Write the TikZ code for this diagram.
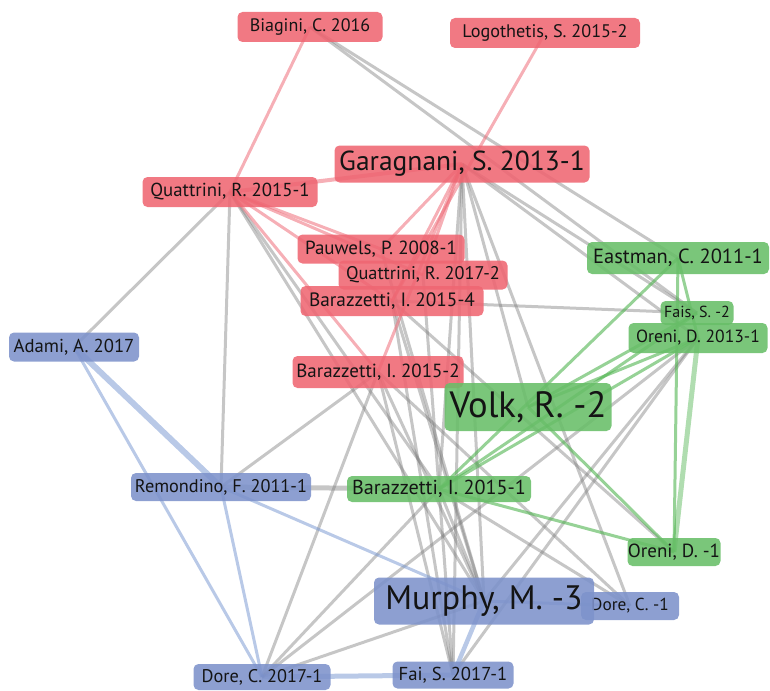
\documentclass[tikz,border=0pt]{standalone}
\usepackage{fontspec}
\setmainfont{PT Sans}
\usetikzlibrary{backgrounds}
\definecolor{nred}{RGB}{239,102,114}
\definecolor{ngreen}{RGB}{104,190,104}
\definecolor{nblue}{RGB}{125,146,203}
\definecolor{ered}{RGB}{238,110,122}
\definecolor{egreen}{RGB}{80,180,80}
\definecolor{eblue}{RGB}{115,148,208}
\definecolor{egray}{RGB}{120,120,120}
\newcommand\nfs[1]{\fontsize{#1pt}{#1pt}\selectfont}
\begin{document}
\begin{tikzpicture}[x=1pt,y=-1pt,
  box/.style={rounded corners=5pt, inner sep=0pt, fill opacity=0.88, text opacity=1, text=black!92},
  rb/.style={box, fill=nred},
  gb/.style={box, fill=ngreen},
  bb/.style={box, fill=nblue},
  ge/.style={draw=egray, draw opacity=0.42, line width=3pt},
  re/.style={draw=ered, draw opacity=0.55, line width=3pt},
  gre/.style={draw=egreen, draw opacity=0.6, line width=3pt},
  be/.style={draw=eblue, draw opacity=0.5, line width=3pt}]
\useasboundingbox (0,0) rectangle (770,690);

% nodes
\node[rb, minimum width=145pt, minimum height=30pt, font=\nfs{18}] (biag) at (310,27) {Biagini, C. 2016};
\node[rb, minimum width=190pt, minimum height=30pt, font=\nfs{18.2}] (logo) at (545,33) {Logothetis, S. 2015-2};
\node[rb, minimum width=255pt, minimum height=37pt, font=\nfs{27.5}] (gara) at (462,164) {Garagnani, S. 2013-1};
\node[rb, minimum width=175pt, minimum height=30pt, font=\nfs{18.8}] (q151) at (230,192) {Quattrini, R. 2015-1};
\node[rb, minimum width=167pt, minimum height=29pt, font=\nfs{19}] (pauw) at (381,249) {Pauwels, P. 2008-1};
\node[rb, minimum width=169pt, minimum height=29pt, font=\nfs{18.3}] (q172) at (423,275) {Quattrini, R. 2017-2};
\node[rb, minimum width=183pt, minimum height=30pt, font=\nfs{19.3}] (b154) at (392,301) {Barazzetti, I. 2015-4};
\node[rb, minimum width=171pt, minimum height=32pt, font=\nfs{19}] (b152) at (378,372) {Barazzetti, I. 2015-2};
\node[gb, minimum width=182pt, minimum height=32pt, font=\nfs{20.5}] (east) at (678,258) {Eastman, C. 2011-1};
\node[gb, minimum width=73pt, minimum height=24pt, font=\nfs{16}] (fais) at (697,313) {Fais, S. -2};
\node[gb, minimum width=139pt, minimum height=30pt, font=\nfs{17.6}] (or13) at (698,338) {Oreni, D. 2013-1};
\node[gb, minimum width=167pt, minimum height=48pt, font=\nfs{36.6}] (volk) at (528,407) {Volk, R. -2};
\node[gb, minimum width=184pt, minimum height=26pt, font=\nfs{20.2}] (b151) at (439,489) {Barazzetti, I. 2015-1};
\node[gb, minimum width=93pt, minimum height=28pt, font=\nfs{19}] (oren1) at (674,552) {Oreni, D. -1};
\node[bb, minimum width=130pt, minimum height=29pt, font=\nfs{18.7}] (adam) at (74,347) {Adami, A. 2017};
\node[bb, minimum width=180pt, minimum height=28pt, font=\nfs{18.3}] (remo) at (221,487) {Remondino, F. 2011-1};
\node[bb, minimum width=98pt, minimum height=28pt, font=\nfs{17.3}] (dorc1) at (630,606) {Dore, C. -1};
\node[bb, minimum width=220pt, minimum height=47pt, font=\nfs{33.9}] (murp) at (484,601) {Murphy, M. -3};
\node[bb, minimum width=121pt, minimum height=27pt, font=\nfs{18.7}] (fai17) at (453,675) {Fai, S. 2017-1};
\node[bb, minimum width=137pt, minimum height=26pt, font=\nfs{18.3}] (dore17) at (262,677) {Dore, C. 2017-1};

\begin{pgfonlayer}{background}
% gray links
\foreach \a/\b in {adam/q151, q151/remo, q151/b151, q151/murp, biag/east, biag/fais,
  gara/murp, gara/volk, gara/dorc1, gara/fais, gara/fai17, gara/b151, gara/or13,
  b154/fais, b154/murp, b154/fai17, b154/oren1, pauw/murp, q172/fai17,
  b152/remo, b152/dore17, b152/murp, b152/fai17, b152/dorc1,
  b151/dore17, b151/murp, b151/dorc1, dore17/or13, dore17/murp, or13/fai17, or13/murp}
  \draw[ge] (\a.center) -- (\b.center);
\draw[ge, line width=5pt] (remo.center) -- (b151.center);
% red links
\foreach \a/\b in {biag/q151, logo/b154, q151/pauw, q151/q172, q151/b154, q151/b152,
  gara/pauw, gara/q172, gara/b154, gara/b152}
  \draw[re] (\a.center) -- (\b.center);
\draw[re, line width=4pt] (q151.center) -- (gara.center);
% green links
\foreach \a/\b in {east/or13, east/b151, fais/b151, or13/b151, fais/volk, or13/volk,
  volk/oren1, b151/oren1, east/oren1}
  \draw[gre] (\a.center) -- (\b.center);
\draw[gre, line width=5pt, draw opacity=0.45] (or13.center) -- (oren1.center);
% blue links
\foreach \a/\b in {adam/dore17, remo/dore17, remo/murp, murp/dorc1}
  \draw[be] (\a.center) -- (\b.center);
\draw[be, line width=6pt] (adam.center) -- (remo.center);
\draw[be, line width=5pt] (dore17.center) -- (fai17.center);
\draw[be, line width=4.5pt] (fai17.center) -- (murp.center);
\end{pgfonlayer}
\end{tikzpicture}
\end{document}
